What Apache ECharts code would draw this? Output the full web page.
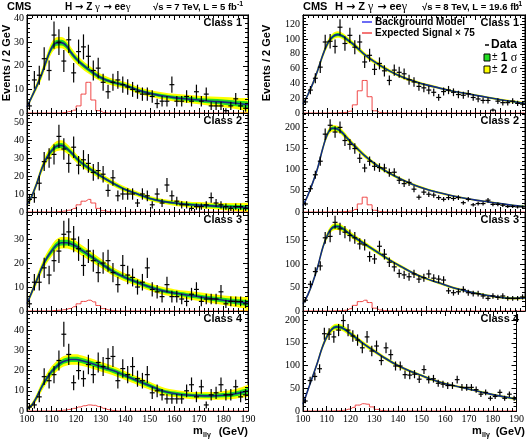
<!DOCTYPE html>
<html><head><meta charset="utf-8">
<script src="https://cdn.jsdelivr.net/npm/echarts@6/dist/echarts.min.js"></script>
<style>html,body{margin:0;padding:0;background:#fff}#c{width:527px;height:441px}</style>
</head><body><div id="c"></div>
<script>
// ---------- DATA ----------
const BIN_CENTERS = [101,103,105,107,109,111,113,115,117,119,121,123,125,127,129,131,133,135,137,139,141,143,145,147,149,151,153,155,157,159,161,163,165,167,169,171,173,175,177,179,181,183,185,187,189];
const X_TICKS = [100,110,120,130,140,150,160,170,180,190];
const CURVE_X = [100,102,104,106,108,110,112,114,116,118,120,122,125,130,135,140,145,150,155,160,165,170,175,180,185,190];
const SIGNAL_X = [111,113,115,117,119,121,123,125,127,129,131,133,135,137];

// 7 TeV data (events / 2 GeV)
const DATA_7_C1 = [3,14,16,23,18,33,30,22,31,17,26,28,24,18,19,13,9,13,14,12,11,10,9,8,8,7,4,5,5,12,5,5,7,5,9,5,8,3,3,3,1,3,6,3,2];
const DATA_7_C2 = [7,8,16,28,30,32,42,35,27,36,26,29,27,22,23,21,12,19,9,10,10,10,5,10,9,4,10,5,15,9,6,4,4,2,3,3,4,8,5,4,3,2,3,3,2];
const DATA_7_C3 = [3,12,12,18,15,21,25,32,33,30,26,19,25,21,16,20,21,16,11,19,15,14,10,12,18,9,8,6,11,6,6,5,4,7,9,4,5,5,5,8,3,4,4,4,3];
const DATA_7_C4 = [2,3,7,17,15,18,25,38,28,14,20,16,23,18,24,22,26,27,15,21,18,22,16,15,18,9,10,8,6,6,6,6,10,13,7,12,3,8,9,13,8,8,12,7,8];
// 8 TeV data
const DATA_8_C1 = [15,31,47,62,96,97,90,116,94,105,89,96,69,78,59,67,57,44,58,55,53,45,42,36,34,31,28,21,29,31,28,25,24,26,21,19,17,17,4,16,14,14,16,13,12];
const DATA_8_C2 = [19,55,88,120,184,205,189,200,169,160,150,127,104,120,108,105,104,93,94,75,67,70,54,35,47,42,40,34,30,34,32,34,22,30,17,20,20,28,18,18,16,13,13,12,12];
const DATA_8_C3 = [23,57,84,96,156,159,189,175,168,161,156,143,141,116,111,138,121,104,94,80,77,73,79,68,71,79,70,68,66,43,39,41,46,39,37,37,32,27,32,29,32,27,27,27,30];
const DATA_8_C4 = [22,67,76,93,170,169,163,178,199,178,165,156,139,163,132,143,111,139,124,99,99,80,79,81,70,91,69,71,61,59,56,56,69,52,52,52,47,37,41,28,32,41,28,37,28];

// background model (read at CURVE_X)
const BKG_7_C1 = [2.5,7,11.5,16.5,22.5,27.5,29.7,29.8,28.5,25.5,23,21,18.5,15,13,11.7,9.7,8.3,7.3,6.5,6,5.5,5,4.6,4.1,3.5];
const BKG_7_C2 = [4,9,16,24,30,34,36.5,37,35.5,33,30,27.5,24.5,20,16,12.5,10,7.5,6,5,4.3,3.8,3.4,3,2.8,2.5];
const BKG_7_C3 = [3,8,13,18,22,25,27.5,28.5,28.5,28,27,25.5,23.5,20,16.5,14,12,10,8.5,7.5,6.7,6,5.2,4.5,3.9,3.3];
const BKG_7_C4 = [1,3,7,12,16,19.5,22,24,25,25.5,25.5,25,24,22,20,17.5,15,12.5,10,8.7,7.9,7.6,7.5,7.8,8.5,10];
const BKG_8_C1 = [12,25,40,58,78,94,103,106,104,99,94,88,79,67,57,49,43,38,34,30,27,24,21,18,15.5,13];
const BKG_8_C2 = [15,40,70,105,150,185,198,196,187,174,161,150,133,110,92,77,64,54,46,39,33,28,24,20,16,13];
const BKG_8_C3 = [15,35,62,95,135,163,178,180,176,168,160,153,143,126,109,94,80,69,60,51,44,38,33,29,27,28];
const BKG_8_C4 = [15,45,75,105,138,163,179,185,184,178,170,162,150,132,115,100,88,78,68,60,54,48,42,36,31,26];

// 1 sigma half-width of the background band (read at CURVE_X)
const ERR_7_C1 = [0.4,0.6,0.8,1.0,1.1,1.2,1.2,1.2,1.2,1.1,1.0,0.95,0.9,0.8,0.75,0.7,0.7,0.7,0.75,0.8,0.85,0.9,1.0,1.1,1.2,1.4];
const ERR_7_C2 = [0.5,0.8,1.0,1.2,1.3,1.4,1.4,1.4,1.35,1.3,1.2,1.1,1.0,0.9,0.8,0.75,0.7,0.7,0.7,0.75,0.8,0.85,0.9,1.0,1.1,1.3];
const ERR_7_C3 = [0.5,0.7,0.9,1.0,1.1,1.2,1.2,1.2,1.2,1.2,1.15,1.1,1.05,0.95,0.9,0.85,0.8,0.8,0.8,0.8,0.85,0.9,0.95,1.0,1.1,1.25];
const ERR_7_C4 = [0.4,0.6,0.9,1.1,1.2,1.3,1.3,1.3,1.3,1.3,1.3,1.3,1.25,1.2,1.15,1.1,1.05,1.0,0.95,0.9,0.9,0.9,0.95,1.05,1.2,1.5];
const ERR_8_C1 = [0.8,1.2,1.6,1.9,2.1,2.2,2.2,2.2,2.1,2.0,1.9,1.8,1.6,1.4,1.2,1.1,1.0,0.9,0.8,0.75,0.7,0.7,0.7,0.75,0.8,0.9];
const ERR_8_C2 = [1,2,2.5,3,3.5,3.8,3.8,3.8,3.6,3.4,3.2,3,2.7,2.3,2,1.8,1.6,1.4,1.3,1.2,1.1,1.0,1.0,1.0,1.0,1.1];
const ERR_8_C3 = [1,1.8,2.3,2.8,3.2,3.5,3.6,3.6,3.5,3.3,3.1,2.9,2.6,2.3,2,1.8,1.6,1.5,1.4,1.3,1.2,1.2,1.2,1.2,1.3,1.5];
const ERR_8_C4 = [1,1.8,2.3,2.8,3.2,3.5,3.6,3.6,3.5,3.3,3.1,2.9,2.6,2.3,2,1.8,1.6,1.5,1.4,1.3,1.2,1.2,1.2,1.2,1.3,1.5];

// expected signal x 75 (at SIGNAL_X, zero elsewhere)
const SIGNAL_7_C1 = [0,0,0.2,0.6,1.2,3,8,13,5.5,1,0.2,0,0,0];
const SIGNAL_7_C2 = [0,0.2,0.5,1,2,4,6,7,5,2,0.7,0.2,0,0];
const SIGNAL_7_C3 = [0.2,0.3,0.5,1,1.8,3,4,4.5,3.8,2.3,1,0.4,0.1,0];
const SIGNAL_7_C4 = [0,0.2,0.4,0.8,1.3,2,2.6,3,2.8,2.2,1.3,0.6,0.2,0];
const SIGNAL_8_C1 = [0,0,0.3,0.8,2.5,11,30,44,22,3,0.8,0.3,0,0];
const SIGNAL_8_C2 = [0,0,0.5,1,2,6,19,35,17,4,1,0.3,0,0];
const SIGNAL_8_C3 = [0,0.3,0.6,1.5,5,12,20,23,18,6,2,0.8,0.3,0];
const SIGNAL_8_C4 = [0,0.3,0.7,1.5,4,8,13,16,15,9,3.5,1,0.3,0];

const Y_MAX = [41.5, 55, 41.3, 49.5, 132.5, 234, 211, 220];
const Y_STEP = [10, 10, 10, 10, 20, 50, 50, 50];
const Y_LABEL_TOP = [40, 50, 30, 40, 120, 200, 150, 200];   // highest printed tick label
const CLASS_LABELS = ['Class 1','Class 2','Class 3','Class 4'];

// ---------- LAYOUT ----------
const SANS = '"Liberation Sans", Arial, sans-serif';
const SERIF = '"Liberation Serif", "Times New Roman", serif';
const COL_LEFT = [27, 303], COL_W = [221, 222];
const ROW_TOP = [15, 113, 212, 311], ROW_H = [98, 99, 99, 100];

const panels = [
  {col:0,row:0,data:DATA_7_C1,bkg:BKG_7_C1,err:ERR_7_C1,sig:SIGNAL_7_C1},
  {col:0,row:1,data:DATA_7_C2,bkg:BKG_7_C2,err:ERR_7_C2,sig:SIGNAL_7_C2},
  {col:0,row:2,data:DATA_7_C3,bkg:BKG_7_C3,err:ERR_7_C3,sig:SIGNAL_7_C3},
  {col:0,row:3,data:DATA_7_C4,bkg:BKG_7_C4,err:ERR_7_C4,sig:SIGNAL_7_C4},
  {col:1,row:0,data:DATA_8_C1,bkg:BKG_8_C1,err:ERR_8_C1,sig:SIGNAL_8_C1},
  {col:1,row:1,data:DATA_8_C2,bkg:BKG_8_C2,err:ERR_8_C2,sig:SIGNAL_8_C2},
  {col:1,row:2,data:DATA_8_C3,bkg:BKG_8_C3,err:ERR_8_C3,sig:SIGNAL_8_C3},
  {col:1,row:3,data:DATA_8_C4,bkg:BKG_8_C4,err:ERR_8_C4,sig:SIGNAL_8_C4}
];

const grid = [], xAxis = [], yAxis = [], series = [], graphic = [];
const tickStyle = {color:'#000', width:1};

panels.forEach((p, i) => {
  const left = COL_LEFT[p.col], width = COL_W[p.col], top = ROW_TOP[p.row], height = ROW_H[p.row];
  grid.push({left, top, width, height, show:true, borderColor:'#000', borderWidth:1, backgroundColor:'transparent', containLabel:false, z:0});
  const xBase = {gridIndex:i, type:'value', min:X_TICKS[0], max:X_TICKS[X_TICKS.length-1], interval:10, z:10,
    axisLine:{show:true, onZero:false, lineStyle:{color:'#000'}},
    axisTick:{show:true, inside:true, length:5, lineStyle:tickStyle},
    minorTick:{show:true, splitNumber:5, length:3, lineStyle:tickStyle},
    splitLine:{show:false}, minorSplitLine:{show:false}};
  xAxis.push(Object.assign({}, xBase, {position:'bottom',
    axisLabel:{show:p.row===3, margin:3, color:'#000', fontFamily:SERIF, fontSize:10}}));
  xAxis.push(Object.assign({}, xBase, {position:'top', axisLabel:{show:false}}));
  const ymax = Y_MAX[i], ystep = Y_STEP[i], ytop = Y_LABEL_TOP[i];
  const yBase = {gridIndex:i, type:'value', min:0, max:ymax, splitLine:{show:false}, z:10,
    axisLine:{show:true, onZero:false, lineStyle:{color:'#000'}}};
  yAxis.push(Object.assign({}, yBase, {position:'left', interval:ystep,
    axisTick:{show:true, inside:true, length:5, lineStyle:tickStyle},
    axisLabel:{show:true, showMaxLabel:false, margin:3, color:'#000', fontFamily:SERIF, fontSize:10,
      formatter: v => (v <= ytop ? String(v) : '')}}));
  yAxis.push(Object.assign({}, yBase, {position:'left', interval:ystep/5,
    axisTick:{show:true, inside:true, length:3, lineStyle:tickStyle}, axisLabel:{show:false}}));
  yAxis.push(Object.assign({}, yBase, {position:'right', interval:ystep,
    axisTick:{show:true, inside:true, length:5, lineStyle:tickStyle}, axisLabel:{show:false}}));
  yAxis.push(Object.assign({}, yBase, {position:'right', interval:ystep/5,
    axisTick:{show:true, inside:true, length:3, lineStyle:tickStyle}, axisLabel:{show:false}}));

  const xi = 2*i, yi = 4*i;
  const common = {xAxisIndex:xi, yAxisIndex:yi, type:'line', symbol:'none', silent:true, smooth:0.35, animation:false, z:1};
  const layers = [[2,'#ffff00'],[1,'#22dd22'],[-1,'#ffff00'],[-2,'#ffffff']];
  layers.forEach(([n, col]) => {
    series.push(Object.assign({}, common, {lineStyle:{opacity:0}, areaStyle:{color:col, opacity:1, origin:'start'},
      data: CURVE_X.map((x,k)=>[x, p.bkg[k] + n*p.err[k]])}));
  });
  series.push(Object.assign({}, common, {z:3, lineStyle:{color:'#142a86', width:1.6},
    data: CURVE_X.map((x,k)=>[x, p.bkg[k]])}));
  const sigData = [[100,0]].concat(BIN_CENTERS.map(c => {
    const k = SIGNAL_X.indexOf(c); return [c, k>=0 ? p.sig[k] : 0];
  })).concat([[190,0]]);
  series.push({xAxisIndex:xi, yAxisIndex:yi, type:'line', step:'middle', symbol:'none', silent:true, animation:false, z:3,
    lineStyle:{color:'#f04848', width:1}, data:sigData});
  series.push({xAxisIndex:xi, yAxisIndex:yi, type:'custom', silent:true, animation:false, clip:true, z:4,
    data: BIN_CENTERS.map((c,k)=>[c, p.data[k]]),
    renderItem: (params, api) => {
      const x = api.value(0), y = api.value(1);
      const e = Math.sqrt(y);
      const c = api.coord([x, y]);
      const t = api.coord([x, y + e]);
      const b = api.coord([x, Math.max(0, y - e)]);
      const l = api.coord([x - 1, y]);
      const r = api.coord([x + 1, y]);
      return {type:'group', children:[
        {type:'line', shape:{x1:c[0], y1:t[1], x2:c[0], y2:b[1]}, style:{stroke:'#000', lineWidth:1.2}},
        {type:'line', shape:{x1:l[0], y1:c[1], x2:r[0], y2:c[1]}, style:{stroke:'#000', lineWidth:1.2}}
      ]};
    }});
  graphic.push({type:'text', x:left+width-6, y:top+8, z:100,
    style:{text:CLASS_LABELS[p.row], font:'bold 11px '+SANS, fill:'#000', align:'right', verticalAlign:'middle'}});
});

function txt(x, y, text, font, align, extra) {
  return Object.assign({type:'text', x, y, z:100, style:{text, font, fill:'#000', align:align||'left', verticalAlign:'middle'}}, extra||{});
}
function reaction(x, size) {
  return {type:'text', x, y:7, z:100, style:{text:'{b|H }{a|→}{b| Z }{g|γ}{a| →}{b| ee}{g|γ}', align:'left', verticalAlign:'middle',
    rich:{b:{font:'bold '+size+'px '+SANS, fill:'#000'}, a:{font:'bold '+size+'px "DejaVu Sans", sans-serif', fill:'#000'},
          g:{font:(size+1)+'px '+SERIF, fill:'#000'}}}};
}
graphic.push(txt(7, 7, 'CMS', 'bold 11px '+SANS));
graphic.push(reaction(65, 10));
graphic.push(txt(153, 7, '√s = 7 TeV, L = 5 fb', 'bold 9.5px '+SANS));
graphic.push(txt(237, 4, '-1', 'bold 7px '+SANS));
graphic.push(txt(303, 7, 'CMS', 'bold 11px '+SANS));
graphic.push(reaction(335, 11));
graphic.push(txt(422, 7, '√s = 8 TeV, L = 19.6 fb', 'bold 9.5px '+SANS));
graphic.push(txt(516, 4, '-1', 'bold 7px '+SANS));
graphic.push(txt(7, 63, 'Events / 2 GeV', 'bold 11px '+SANS, 'center', {rotation:Math.PI/2}));
graphic.push(txt(267, 63, 'Events / 2 GeV', 'bold 11px '+SANS, 'center', {rotation:Math.PI/2}));
[[248, 193],[525, 472]].forEach(([r, mx]) => {
  graphic.push(txt(r, 432, '(GeV)', 'bold 11px '+SANS, 'right'));
  graphic.push(txt(mx, 431, 'm', 'bold 11px '+SANS));
  graphic.push(txt(mx+10, 435, 'llγ', 'bold 7px '+SANS));
});
graphic.push({type:'line', z:100, shape:{x1:362, y1:22, x2:372, y2:22}, style:{stroke:'#3b3bf0', lineWidth:1.5}});
graphic.push(txt(375, 22, 'Background Model', 'bold 10px '+SANS));
graphic.push({type:'line', z:100, shape:{x1:362, y1:33, x2:372, y2:33}, style:{stroke:'#f04848', lineWidth:1.5}});
graphic.push(txt(375, 33, 'Expected Signal × 75', 'bold 10px '+SANS));
graphic.push({type:'line', z:100, shape:{x1:485, y1:45, x2:489, y2:45}, style:{stroke:'#000', lineWidth:1.5}});
graphic.push(txt(491, 45, 'Data', 'bold 12px '+SANS));
graphic.push({type:'rect', z:100, shape:{x:484, y:54, width:6, height:7}, style:{fill:'#22dd22', stroke:'#000', lineWidth:1}});
graphic.push({type:'rect', z:100, shape:{x:484, y:66, width:6, height:7}, style:{fill:'#ffff00', stroke:'#000', lineWidth:1}});
[[57.5,'1'],[69.5,'2']].forEach(([y, n]) => {
  graphic.push({type:'text', x:492, y, z:100, style:{text:'{a|±} {b|'+n+'} {c|σ}', verticalAlign:'middle', align:'left',
    rich:{a:{font:'10px '+SANS, fill:'#000'}, b:{font:'bold 12px '+SANS, fill:'#000'}, c:{font:'12px '+SERIF, fill:'#000'}}}});
});

const chart = echarts.init(document.getElementById('c'), null, {renderer:'canvas'});
chart.setOption({animation:false, backgroundColor:'#fff', grid, xAxis, yAxis, series, graphic});
</script></body></html>
